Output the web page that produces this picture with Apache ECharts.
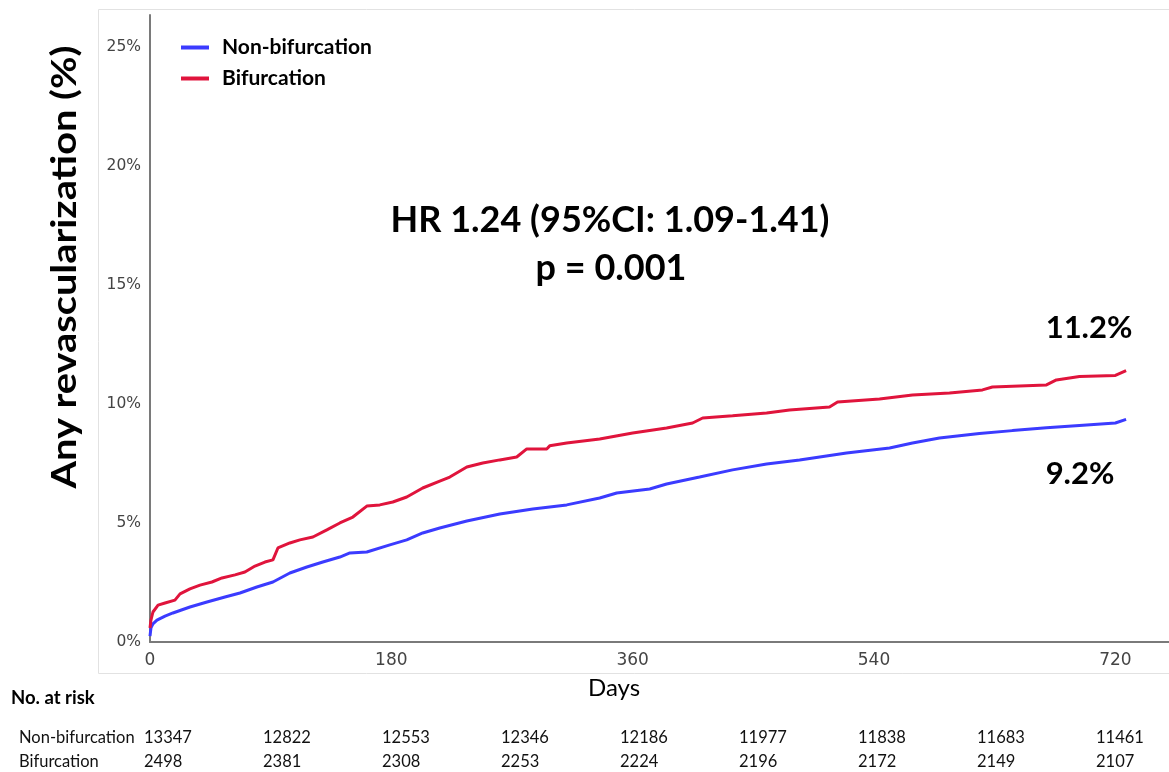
<!DOCTYPE html>
<html>
<head>
<meta charset="utf-8">
<script src="https://cdn.jsdelivr.net/npm/echarts@6/dist/echarts.min.js"></script>
<style>
  html, body { margin: 0; padding: 0; background: #ffffff; }
  #chart { width: 1169px; height: 772px; }
</style>
</head>
<body>
<div id="chart"></div>
<script>
// Cumulative incidence of any revascularization, [day, percent]
const nonBifurcation = [
  [0, 0.25], [0.7, 0.59], [2.2, 0.76], [5.2, 0.92], [11.2, 1.09], [17.1, 1.22],
  [29.8, 1.47], [42.5, 1.68], [55.9, 1.89], [67.1, 2.06], [79.7, 2.31], [91.7, 2.52],
  [104.3, 2.90], [117, 3.15], [128.9, 3.36], [141.6, 3.57], [149.1, 3.74], [161.7, 3.78],
  [178.9, 4.08], [191.5, 4.29], [203.4, 4.58], [216.1, 4.79], [236.3, 5.08], [260.9, 5.38],
  [285.5, 5.59], [310.8, 5.76], [335.4, 6.05], [348.1, 6.26], [372.7, 6.43], [385.3, 6.64],
  [409.9, 6.93], [434.5, 7.23], [459.9, 7.48], [484.5, 7.65], [519.5, 7.94], [551.6, 8.15],
  [568.7, 8.36], [588.8, 8.57], [618.6, 8.76], [643.2, 8.88], [668.6, 9.0], [693.2, 9.1],
  [720, 9.2], [728, 9.35]
];
const bifurcation = [
  [0, 0.59], [0.7, 0.92], [2.2, 1.26], [6, 1.55], [11.2, 1.64], [18.6, 1.76],
  [22.4, 2.02], [29.8, 2.23], [37.3, 2.39], [46.2, 2.52], [53.7, 2.69], [63.4, 2.82],
  [70.8, 2.94], [78.3, 3.19], [85.7, 3.36], [91.7, 3.45], [95.4, 3.95], [104.3, 4.16],
  [111.8, 4.29], [121.5, 4.41], [131.9, 4.71], [141.6, 5.0], [151.3, 5.25], [161.7, 5.71],
  [171.4, 5.76], [181.1, 5.88], [191.5, 6.09], [203.4, 6.47], [216.1, 6.76], [223.6, 6.93],
  [236.3, 7.35], [248.2, 7.52], [260.9, 7.65], [273.5, 7.77], [281, 8.11], [295.9, 8.11],
  [298.1, 8.24], [310.8, 8.36], [335.4, 8.53], [360, 8.78], [385.3, 8.99], [404.7, 9.2],
  [412.2, 9.41], [434.5, 9.5], [459.9, 9.62], [477, 9.75], [506.8, 9.87], [512.8, 10.08],
  [544.1, 10.21], [568.7, 10.38], [596.3, 10.46], [620.9, 10.59], [628.3, 10.71], [668.6, 10.8],
  [676, 11.01], [693.2, 11.15], [720, 11.2], [728, 11.4]
];

const seriesNames = ['Non-bifurcation', 'Bifurcation'];
const endLabels = ['9.2%', '11.2%'];
const statLines = ['HR 1.24 (95%CI: 1.09-1.41)', 'p = 0.001'];

// Numbers at risk every 90 days
const riskDays = [0, 90, 180, 270, 360, 450, 540, 630, 720];
const riskNonBifurcation = [13347, 12822, 12553, 12346, 12186, 11977, 11838, 11683, 11461];
const riskBifurcation = [2498, 2381, 2308, 2253, 2224, 2196, 2172, 2149, 2107];

const chart = echarts.init(document.getElementById('chart'), null, { renderer: 'canvas' });

const rowFont = '16.5px Lato';
const riskText = [];
const colX0 = 144, colStep = 119;
riskNonBifurcation.forEach((n, i) => {
  riskText.push({ type: 'text', x: colX0 + i * colStep, y: 738,
    style: { text: String(n), font: rowFont, fill: '#111', verticalAlign: 'middle' } });
});
riskBifurcation.forEach((n, i) => {
  riskText.push({ type: 'text', x: colX0 + i * colStep, y: 762,
    style: { text: String(n), font: rowFont, fill: '#111', verticalAlign: 'middle' } });
});

chart.setOption({
  animation: false,
  backgroundColor: '#ffffff',
  grid: { left: 150, right: 0, top: 15, bottom: 130, containLabel: false },
  legend: {
    orient: 'vertical', left: 176, top: 32, itemGap: 10,
    itemWidth: 28, itemHeight: 4, icon: 'rect',
    textStyle: { fontFamily: 'Lato', fontWeight: 'bold', fontSize: 21, color: '#000', padding: [0, 0, 0, 8] },
    data: seriesNames
  },
  xAxis: {
    type: 'value', min: 0, max: 760, interval: 180,
    axisLine: { lineStyle: { color: '#7a7a7a', width: 2 } },
    axisTick: { show: false },
    splitLine: { show: false },
    axisLabel: { showMaxLabel: false, margin: 10, fontFamily: 'DejaVu Sans', fontSize: 17, color: '#444' }
  },
  yAxis: {
    type: 'value', min: 0, max: 26.34, interval: 5,
    axisLine: { show: true, lineStyle: { color: '#7a7a7a', width: 2 } },
    axisTick: { show: false },
    splitLine: { show: false },
    axisLabel: { showMaxLabel: false, margin: 9, formatter: '{value}%',
      fontFamily: 'DejaVu Sans', fontSize: 15.5, color: '#444' }
  },
  series: [
    { name: seriesNames[0], type: 'line', data: nonBifurcation, showSymbol: false,
      color: '#3b3bff', lineStyle: { width: 3, color: '#3b3bff' } },
    { name: seriesNames[1], type: 'line', data: bifurcation, showSymbol: false,
      color: '#e0143c', lineStyle: { width: 3, color: '#e0143c' } }
  ],
  graphic: [
    { type: 'rect', silent: true, z: -1,
      shape: { x: 98.5, y: 9.5, width: 1100, height: 664 },
      style: { fill: 'none', stroke: '#e2e2e2', lineWidth: 1 } },
    { type: 'text', x: 65, y: 267, rotation: Math.PI / 2, scaleX: 1.17,
      style: { text: 'Any revascularization (%)', font: 'bold 34px Lato', fill: '#000',
        align: 'center', verticalAlign: 'middle' } },
    { type: 'text', x: 614, y: 688,
      style: { text: 'Days', font: '24px Lato', fill: '#000', align: 'center', verticalAlign: 'middle' } },
    { type: 'text', x: 610, y: 220,
      style: { text: statLines[0], font: 'bold 36px Lato', fill: '#000', align: 'center', verticalAlign: 'middle' } },
    { type: 'text', x: 611, y: 268,
      style: { text: statLines[1], font: 'bold 36px Lato', fill: '#000', align: 'center', verticalAlign: 'middle' } },
    { type: 'text', x: 1089, y: 328,
      style: { text: endLabels[1], font: 'bold 31px Lato', fill: '#000', align: 'center', verticalAlign: 'middle' } },
    { type: 'text', x: 1080, y: 474,
      style: { text: endLabels[0], font: 'bold 31px Lato', fill: '#000', align: 'center', verticalAlign: 'middle' } },
    { type: 'text', x: 11, y: 698,
      style: { text: 'No. at risk', font: 'bold 18.5px Lato', fill: '#000', verticalAlign: 'middle' } },
    { type: 'text', x: 19, y: 738,
      style: { text: seriesNames[0], font: rowFont, fill: '#111', verticalAlign: 'middle' } },
    { type: 'text', x: 19, y: 762,
      style: { text: seriesNames[1], font: rowFont, fill: '#111', verticalAlign: 'middle' } }
  ].concat(riskText)
});
</script>
</body>
</html>
